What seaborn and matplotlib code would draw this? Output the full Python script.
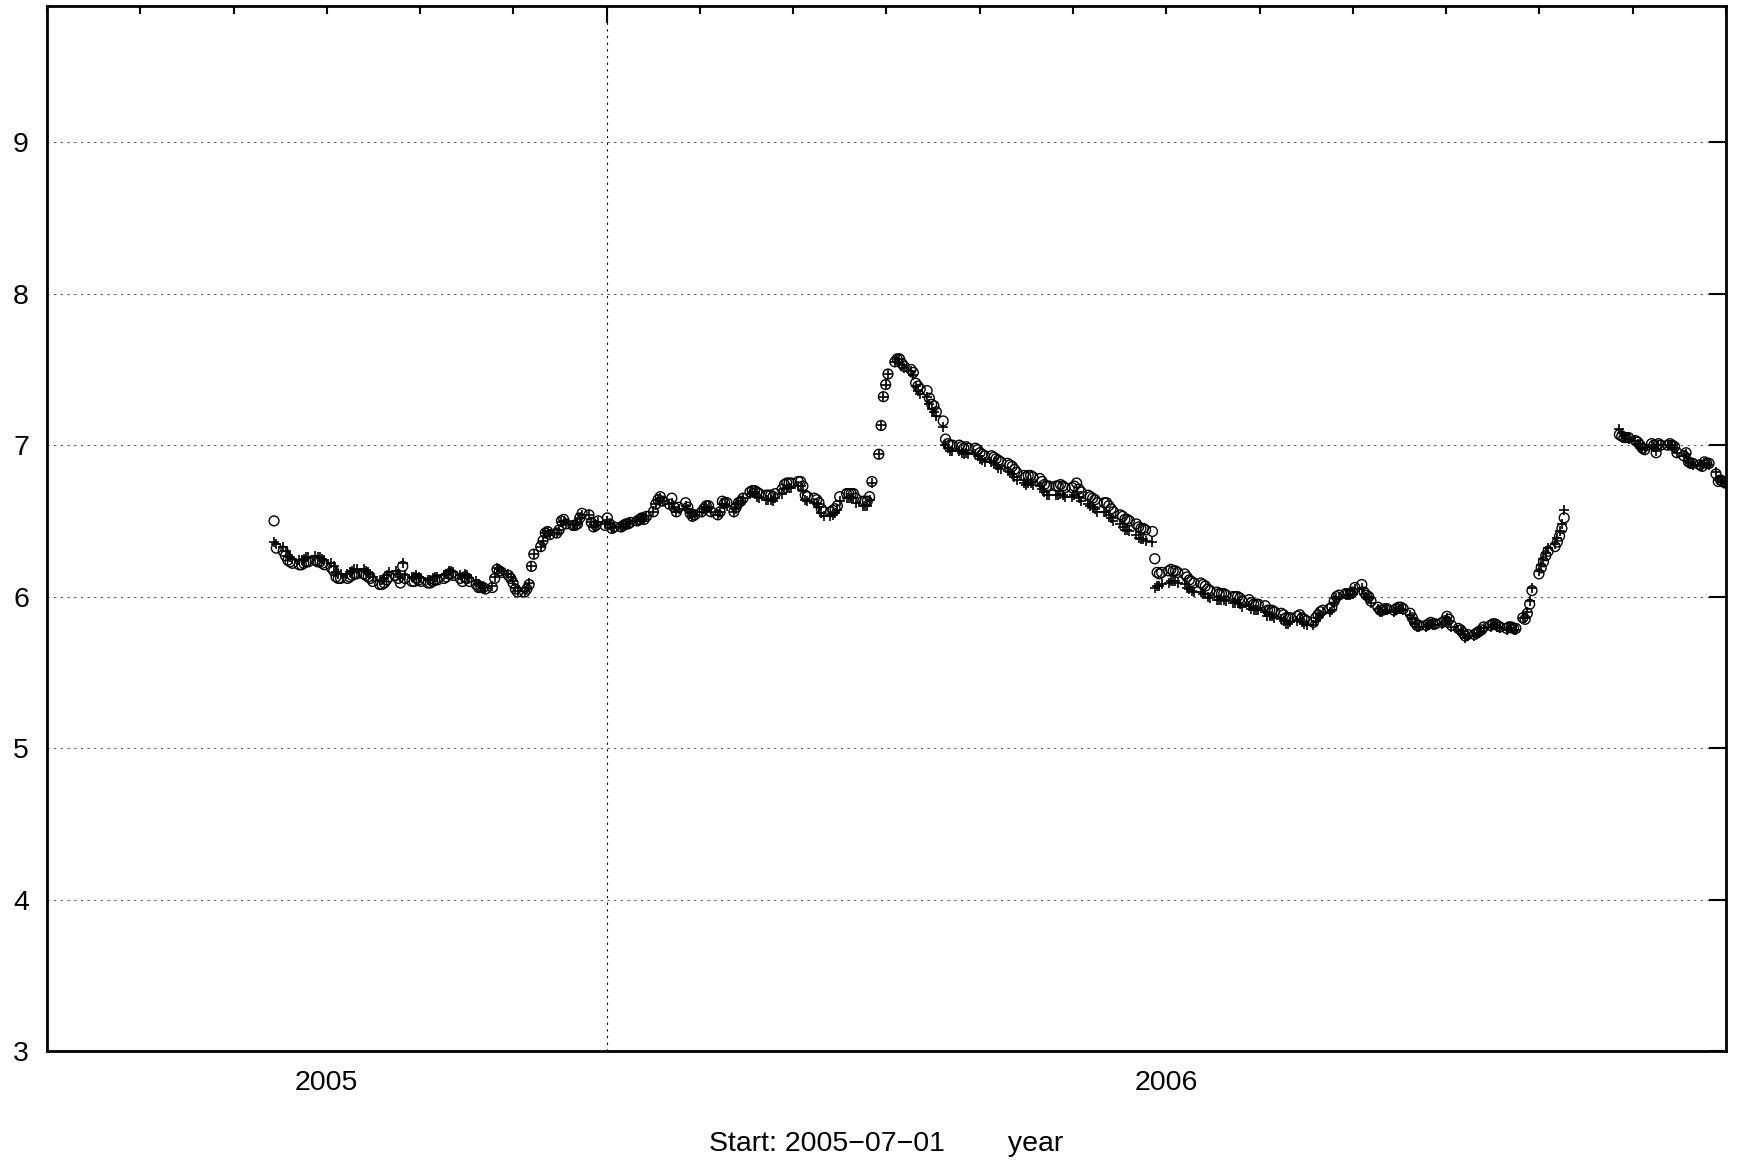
#!/usr/bin/env python
# two daily (business-day) series, gnuplot-like look

import matplotlib

matplotlib.use("Agg")
import matplotlib.pyplot as plt
import matplotlib.ticker as mticker
import numpy as np
import pandas as pd
import seaborn as sns

# business-day runs, with a gap in summer 2006
run1_start, run1_end = "2004-12-09", "2006-06-23"
run2_start, run2_end = "2006-07-17", "2006-09-01"

# open circles
circle_run1 = [
    6.50, 6.32, 6.30, 6.27, 6.24, 6.23, 6.22, 6.21, 6.21, 6.22,
    6.23, 6.23, 6.24, 6.23, 6.23, 6.22, 6.21, 6.19, 6.17, 6.13,
    6.12, 6.12, 6.12, 6.13, 6.14, 6.15, 6.15, 6.15, 6.14, 6.13,
    6.12, 6.10, 6.08, 6.08, 6.09, 6.11, 6.13, 6.14, 6.12, 6.09,
    6.20, 6.12, 6.10, 6.10, 6.12, 6.11, 6.10, 6.09, 6.09, 6.10,
    6.11, 6.11, 6.12, 6.13, 6.15, 6.15, 6.14, 6.12, 6.10, 6.13,
    6.12, 6.10, 6.08, 6.06, 6.06, 6.06, 6.05, 6.06, 6.12, 6.18,
    6.17, 6.16, 6.14, 6.12, 6.09, 6.05, 6.03, 6.03, 6.05, 6.08,
    6.20, 6.28, 6.33, 6.37, 6.42, 6.43, 6.41, 6.42, 6.44, 6.50,
    6.51, 6.48, 6.47, 6.47, 6.48, 6.52, 6.55, 6.54, 6.49, 6.46,
    6.47, 6.50, 6.47, 6.52, 6.48, 6.45, 6.46, 6.46, 6.47, 6.48,
    6.48, 6.49, 6.50, 6.51, 6.52, 6.51, 6.53, 6.56, 6.61, 6.64,
    6.66, 6.63, 6.61, 6.65, 6.59, 6.56, 6.59, 6.62, 6.59, 6.55,
    6.53, 6.54, 6.56, 6.58, 6.60, 6.60, 6.56, 6.54, 6.56, 6.63,
    6.62, 6.62, 6.56, 6.59, 6.62, 6.63, 6.65, 6.69, 6.70, 6.70,
    6.69, 6.68, 6.67, 6.67, 6.67, 6.66, 6.68, 6.71, 6.74, 6.75,
    6.75, 6.75, 6.76, 6.76, 6.73, 6.67, 6.66, 6.65, 6.64, 6.62,
    6.58, 6.56, 6.56, 6.57, 6.58, 6.60, 6.66, 6.68, 6.68, 6.68,
    6.68, 6.65, 6.63, 6.63, 6.63, 6.66, 6.76, 6.94, 7.13, 7.32,
    7.40, 7.47, 7.55, 7.57, 7.57, 7.54, 7.52, 7.50, 7.48, 7.41,
    7.39, 7.37, 7.36, 7.31, 7.27, 7.26, 7.22, 7.16, 7.04, 7.01,
    7.00, 7.00, 7.00, 6.99, 6.98, 6.99, 6.98, 6.98, 6.97, 6.95,
    6.94, 6.93, 6.93, 6.92, 6.91, 6.90, 6.89, 6.88, 6.87, 6.86,
    6.84, 6.82, 6.80, 6.79, 6.80, 6.80, 6.79, 6.78, 6.76, 6.74,
    6.73, 6.73, 6.73, 6.73, 6.74, 6.73, 6.72, 6.72, 6.73,
    6.75, 6.71, 6.69, 6.67, 6.66, 6.65, 6.64, 6.62, 6.62, 6.62,
    6.60, 6.58, 6.56, 6.54, 6.53, 6.51, 6.51, 6.50, 6.48, 6.46,
    6.45, 6.45, 6.44, 6.43, 6.25, 6.16, 6.15, 6.16, 6.17, 6.18,
    6.17, 6.17, 6.16, 6.15, 6.13, 6.11, 6.10, 6.09, 6.09, 6.08,
    6.07, 6.05, 6.04, 6.03, 6.02, 6.02, 6.02, 6.01, 6.00, 6.00,
    6.00, 5.99, 5.97, 5.98, 5.96, 5.95, 5.95, 5.95, 5.94, 5.91,
    5.91, 5.91, 5.90, 5.89, 5.88, 5.86, 5.86, 5.86, 5.87, 5.88,
    5.86, 5.85, 5.84, 5.83, 5.86, 5.88, 5.90, 5.91, 5.92, 5.93,
    5.97, 6.00, 6.01, 6.02, 6.02, 6.02, 6.03, 6.06, 6.08, 6.03,
    6.01, 6.00, 5.97, 5.93, 5.91, 5.91, 5.92, 5.92, 5.91, 5.92,
    5.93, 5.93, 5.92, 5.89, 5.86, 5.83, 5.81, 5.81, 5.81, 5.82,
    5.83, 5.82, 5.82, 5.83, 5.84, 5.87, 5.85, 5.81, 5.79, 5.78,
    5.76, 5.74, 5.75, 5.75, 5.76, 5.77, 5.78, 5.80, 5.81, 5.82,
    5.82, 5.81, 5.80, 5.79, 5.80, 5.80, 5.79, 5.79, 5.86, 5.85,
    5.89, 5.95, 6.04, 6.15, 6.19, 6.23, 6.27, 6.30, 6.33, 6.36,
    6.40, 6.45, 6.52,
]
circle_run2 = [
    7.07, 7.06, 7.05, 7.05, 7.05, 7.03, 7.02, 7.00, 6.98, 6.97,
    7.01, 7.00, 6.95, 7.01, 7.00, 7.00, 7.01, 7.00, 6.99, 6.95,
    6.93, 6.95, 6.89, 6.88, 6.88, 6.87, 6.86, 6.89, 6.88, 6.88,
    6.81, 6.76, 6.77, 6.76, 6.75,
]

# plus markers
plus_run1 = [
    6.36, 6.35, 6.33, 6.30, 6.27, 6.26, 6.25, 6.24, 6.24, 6.25,
    6.26, 6.26, 6.27, 6.26, 6.26, 6.25, 6.24, 6.22, 6.20, 6.16,
    6.15, 6.15, 6.15, 6.16, 6.17, 6.18, 6.18, 6.18, 6.17, 6.16,
    6.15, 6.13, 6.11, 6.11, 6.12, 6.14, 6.16, 6.17, 6.15, 6.13,
    6.22, 6.14, 6.13, 6.13, 6.14, 6.13, 6.12, 6.11, 6.11, 6.12,
    6.13, 6.13, 6.14, 6.15, 6.17, 6.17, 6.16, 6.14, 6.12, 6.15,
    6.14, 6.12, 6.10, 6.08, 6.07, 6.07, 6.06, 6.07, 6.13, 6.19,
    6.18, 6.17, 6.15, 6.13, 6.10, 6.06, 6.04, 6.04, 6.06, 6.09,
    6.20, 6.28, 6.33, 6.37, 6.42, 6.43, 6.41, 6.42, 6.44, 6.49,
    6.50, 6.48, 6.47, 6.47, 6.48, 6.52, 6.54, 6.54, 6.49, 6.46,
    6.47, 6.49, 6.48, 6.50, 6.48, 6.45, 6.46, 6.46, 6.47, 6.48,
    6.48, 6.49, 6.50, 6.51, 6.52, 6.51, 6.53, 6.56, 6.61, 6.64,
    6.65, 6.63, 6.61, 6.62, 6.59, 6.56, 6.58, 6.60, 6.58, 6.55,
    6.53, 6.54, 6.56, 6.58, 6.59, 6.59, 6.56, 6.54, 6.56, 6.61,
    6.61, 6.60, 6.56, 6.58, 6.61, 6.63, 6.65, 6.68, 6.69, 6.69,
    6.66, 6.65, 6.64, 6.64, 6.64, 6.63, 6.65, 6.68, 6.71, 6.72,
    6.72, 6.72, 6.73, 6.73, 6.70, 6.64, 6.63, 6.62, 6.61, 6.59,
    6.55, 6.53, 6.53, 6.54, 6.55, 6.57, 6.63, 6.65, 6.65, 6.65,
    6.65, 6.62, 6.60, 6.60, 6.60, 6.64, 6.75, 6.94, 7.13, 7.32,
    7.40, 7.47, 7.55, 7.57, 7.57, 7.53, 7.51, 7.49, 7.46, 7.39,
    7.36, 7.34, 7.32, 7.27, 7.24, 7.22, 7.19, 7.12, 7.00, 6.98,
    6.96, 6.96, 6.96, 6.95, 6.94, 6.95, 6.94, 6.94, 6.93, 6.91,
    6.90, 6.89, 6.89, 6.88, 6.87, 6.85, 6.84, 6.83, 6.82, 6.81,
    6.79, 6.77, 6.75, 6.74, 6.75, 6.75, 6.74, 6.73, 6.71, 6.69,
    6.67, 6.67, 6.67, 6.67, 6.68, 6.67, 6.66, 6.66, 6.67,
    6.69, 6.65, 6.63, 6.61, 6.60, 6.59, 6.58, 6.56, 6.56, 6.56,
    6.54, 6.52, 6.50, 6.48, 6.46, 6.44, 6.44, 6.43, 6.41, 6.39,
    6.38, 6.38, 6.37, 6.36, 6.06, 6.07, 6.07, 6.08, 6.09, 6.10,
    6.10, 6.10, 6.09, 6.08, 6.06, 6.05, 6.04, 6.03, 6.03, 6.02,
    6.02, 6.00, 5.99, 5.98, 5.98, 5.98, 5.98, 5.97, 5.96, 5.96,
    5.96, 5.95, 5.93, 5.94, 5.92, 5.91, 5.91, 5.91, 5.90, 5.87,
    5.87, 5.87, 5.86, 5.85, 5.84, 5.82, 5.82, 5.83, 5.84, 5.85,
    5.83, 5.82, 5.81, 5.81, 5.84, 5.86, 5.88, 5.89, 5.90, 5.91,
    5.96, 5.99, 6.00, 6.01, 6.01, 6.01, 6.02, 6.05, 6.06, 6.02,
    6.00, 5.99, 5.96, 5.92, 5.90, 5.90, 5.91, 5.91, 5.90, 5.91,
    5.92, 5.92, 5.91, 5.88, 5.85, 5.82, 5.80, 5.80, 5.80, 5.81,
    5.82, 5.81, 5.81, 5.82, 5.83, 5.86, 5.84, 5.80, 5.78, 5.77,
    5.75, 5.73, 5.74, 5.74, 5.75, 5.76, 5.77, 5.79, 5.80, 5.81,
    5.81, 5.80, 5.79, 5.78, 5.79, 5.79, 5.78, 5.78, 5.86, 5.86,
    5.90, 5.97, 6.06, 6.17, 6.21, 6.25, 6.29, 6.32, 6.35, 6.39,
    6.43, 6.48, 6.57,
]
plus_run2 = [
    7.11, 7.08, 7.06, 7.05, 7.04, 7.03, 7.01, 6.99, 6.98, 6.97,
    7.00, 6.99, 6.96, 7.00, 7.00, 7.00, 7.00, 7.00, 6.98, 6.95,
    6.93, 6.94, 6.89, 6.88, 6.87, 6.87, 6.86, 6.88, 6.88, 6.87,
    6.82, 6.77, 6.76, 6.76, 6.75,
]

y_ticks = [3, 4, 5, 6, 7, 8, 9]
x_label = "Start: 2005\u221207\u221201        year"


def decimal_year(dates):
    days = np.where(dates.is_leap_year, 366, 365)
    return dates.year + (dates.dayofyear - 1) / days


def main():
    d1 = pd.bdate_range(run1_start, run1_end)
    d2 = pd.bdate_range(run2_start, run2_end)
    n1 = min(len(d1), len(circle_run1), len(plus_run1))
    n2 = min(len(d2), len(circle_run2), len(plus_run2))

    df = pd.DataFrame(
        {
            "x": np.concatenate([decimal_year(d1[:n1]), decimal_year(d2[:n2])]),
            "circle": circle_run1[:n1] + circle_run2[:n2],
            "plus": plus_run1[:n1] + plus_run2[:n2],
        }
    )

    sns.set_theme(style="white")
    plt.rcParams["font.family"] = ["Liberation Sans", "DejaVu Sans"]
    plt.rcParams["axes.unicode_minus"] = True

    fig = plt.figure(figsize=(17.39, 11.68), dpi=100)
    ax = fig.add_axes([0.0270, 0.1002, 0.9655, 0.8947])

    sns.scatterplot(data=df, x="x", y="plus", marker="+", s=60, color="black",
                    linewidth=1.2, ax=ax, zorder=3)
    sns.scatterplot(data=df, x="x", y="circle", marker="o", s=50, color="black",
                    facecolor="none", edgecolor="black", linewidth=1.0, ax=ax, zorder=4)

    ax.set_xlim(2004 + 6 / 9, 2006 + 6 / 9)
    ax.set_ylim(3, 9.9)
    ax.set_yticks(y_ticks)
    ax.set_yticklabels([str(v) for v in y_ticks])

    # x: minor ticks every 1/9 year, labels only on whole years
    ax.xaxis.set_major_locator(mticker.FixedLocator([2005 + 1 / 3]))
    ax.xaxis.set_major_formatter(mticker.NullFormatter())
    ax.xaxis.set_minor_locator(mticker.MultipleLocator(1 / 9))
    ax.xaxis.set_minor_formatter(
        mticker.FuncFormatter(
            lambda v, p: str(int(round(v))) if abs(v - round(v)) < 1e-6 else ""
        )
    )

    ax.grid(axis="y", which="major", color="0.35", linestyle=(0, (2, 4)), linewidth=0.8)
    ax.grid(axis="x", which="major", color="black", linestyle=(0, (2, 4)), linewidth=0.8)
    ax.set_axisbelow(True)

    ax.tick_params(which="both", direction="in", top=True, right=True,
                   width=1.5, color="black", labelsize=20.5, labelcolor="black")
    ax.tick_params(which="major", length=12)
    ax.tick_params(which="minor", length=6)
    ax.tick_params(axis="y", pad=13)
    ax.tick_params(axis="x", which="minor", pad=14)

    for s in ax.spines.values():
        s.set_color("black")
        s.set_linewidth(2.0)

    ax.set_xlabel(x_label, fontsize=20.5, color="black", labelpad=25)
    ax.set_ylabel("")

    fig.savefig("out.png", dpi=100)
    plt.close(fig)


if __name__ == "__main__":
    main()
